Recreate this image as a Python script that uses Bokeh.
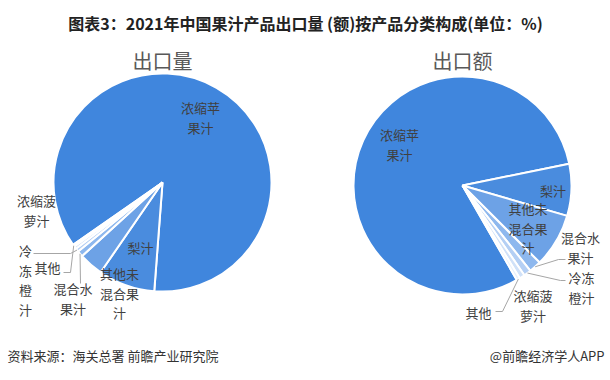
import numpy as np
from bokeh.plotting import figure
from bokeh.models import Range1d, ColumnDataSource
from bokeh.embed import file_html
from bokeh.resources import INLINE
from bokeh.core.properties import value

# ---------------- data ----------------
categories = ["浓缩苹果汁", "梨汁", "其他未混合果汁", "混合水果汁", "冷冻橙汁", "浓缩菠萝汁", "其他"]
volume_share = [85.9, 8.4, 3.6, 0.9, 0.5, 0.4, 0.3]   # 出口量 (%)
value_share = [80.1, 7.7, 8.0, 1.8, 1.1, 0.8, 0.5]    # 出口额 (%)
pie_titles = ["出口量", "出口额"]
title_text = "图表3：2021年中国果汁产品出口量 (额)按产品分类构成(单位：%)"
source_text = "资料来源：海关总署 前瞻产业研究院"
brand_text = "@前瞻经济学人APP"

# ---------------- style / layout ----------------
W, H = 610, 380
colors = ["#4086DD", "#4A8CDE", "#6DA2E6", "#8EB8EE", "#B4CFF4", "#D0E1F8", "#E7F0FC"]
FONT = "Noto Sans CJK SC"
LABEL_COLOR = "#404040"
LINE_H = 19.5

# pie layouts in screen coordinates (y downward)
pies = [
    dict(values=volume_share, cx=162, cy=182, r=109, start=235.1,
         labels={  # category index: (center x, first line y, chars per line)
             0: (200, 107, 3), 1: (140, 247, 3), 2: (119, 273, 3), 3: (72.5, 288, 3),
             4: (25, 250, 1), 5: (36, 200, 3), 6: (47, 267, 3)},
         leaders={3: [(80, 283)], 4: [(70, 253), (33, 253)], 6: [(70, 272), (63, 272)]}),
    dict(values=value_share, cx=462, cy=185, r=109, start=150.1,
         labels={
             0: (399, 134, 3), 1: (552.5, 190, 3), 2: (527.5, 208, 3), 3: (580, 237, 3),
             4: (581, 277, 2), 5: (532.5, 295, 3), 6: (478, 312, 3)},
         leaders={3: [(558, 259), (565, 259)], 4: [(560, 280), (565, 280)],
                  6: [(502, 311), (495, 311)]}),
]


def Y(y):
    return H - y


p = figure(width=W, height=H, x_range=Range1d(0, W), y_range=Range1d(0, H),
           x_axis_type=None, y_axis_type=None, toolbar_location=None,
           output_backend="svg", min_border=0)
p.outline_line_color = None
p.background_fill_color = "white"
p.border_fill_color = "white"

for k, pie in enumerate(pies):
    vals = np.array(pie["values"], dtype=float)
    frac = vals / vals.sum()
    theta_end = pie["start"] + np.cumsum(frac) * 360.0      # clockwise from top
    theta_start = theta_end - frac * 360.0
    mid = (theta_start + theta_end) / 2.0
    src = ColumnDataSource(dict(
        start=np.radians(90.0 - theta_end),
        end=np.radians(90.0 - theta_start),
        color=colors[:len(vals)],
        name=categories,
    ))
    p.wedge(x=pie["cx"], y=Y(pie["cy"]), radius=pie["r"], start_angle="start",
            end_angle="end", direction="anticlock", fill_color="color",
            line_color="white", line_width=2, source=src)

    # leader lines
    for idx, pts in pie["leaders"].items():
        t = np.radians(mid[idx])
        sx = pie["cx"] + pie["r"] * np.sin(t)
        sy = pie["cy"] - pie["r"] * np.cos(t)
        xs = [sx] + [q[0] for q in pts]
        ys = [Y(sy)] + [Y(q[1]) for q in pts]
        p.line(xs, ys, line_color="#A6A6A6", line_width=1)

    # labels
    lx, ly, lt = [], [], []
    for idx, (x0, y0, n) in pie["labels"].items():
        name = categories[idx]
        lines = [name[i:i + n] for i in range(0, len(name), n)]
        for j, ln in enumerate(lines):
            lx.append(x0)
            ly.append(Y(y0 + j * LINE_H))
            lt.append(ln)
    p.text(x=lx, y=ly, text=lt, text_font=value(FONT), text_font_size="13px",
           text_color=LABEL_COLOR, text_align="center", text_baseline="middle")

    # sub-title
    p.text(x=[pie["cx"]], y=[Y(60)], text=[pie_titles[k]], text_font=value(FONT),
           text_font_size="20px", text_color="#595959", text_align="center",
           text_baseline="middle")

# main title
p.text(x=[W / 2], y=[Y(22)], text=[title_text], text_font=value(FONT),
       text_font_size="16px", text_font_style="bold", text_color="#222222",
       text_align="center", text_baseline="middle")

# footer
p.text(x=[7], y=[Y(355)], text=[source_text], text_font=value(FONT),
       text_font_size="13px", text_color="#333333", text_align="left",
       text_baseline="middle")
p.text(x=[604], y=[Y(355)], text=[brand_text], text_font=value(FONT),
       text_font_size="13px", text_color="#333333", text_align="right",
       text_baseline="middle")

open("out.html", "w").write(file_html(p, INLINE))
